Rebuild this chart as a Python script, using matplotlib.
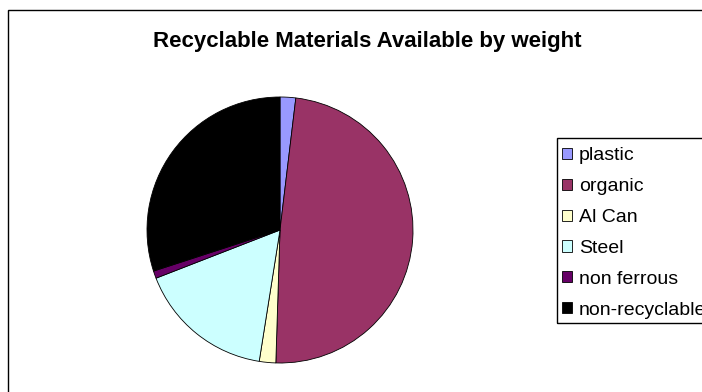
# -*- coding: utf-8 -*-
"""
Pie chart of recyclable materials available, by weight.
"""
from matplotlib import pyplot as plt
from matplotlib.patches import Rectangle

labels = ["plastic", "organic", "Al Can", "Steel", "non ferrous", "non-recyclable"]
weights = [1.9, 48.6, 2.0, 16.6, 0.9, 30.0]
colors = ["#9999FF", "#993366", "#FFFFCC", "#CCFFFF", "#660066", "#000000"]

plt.rcParams['font.family'] = ['Liberation Sans', 'DejaVu Sans']

fig = plt.figure(figsize=(7.02, 3.92), dpi=100)
W, H = 702, 392

# outer chart frame (runs off right and bottom edges)
fig.patches.append(Rectangle((8 / W, -0.1), 1.0, (H - 10) / H + 0.1,
                             transform=fig.transFigure, fill=False,
                             edgecolor="black", linewidth=1.0))

fig.text(367 / W, 1 - 46.5 / H, "Recyclable Materials Available by weight",
         ha="center", va="baseline", fontsize=16, fontweight="bold")

cx, cy, r = 280, 230, 133
ax = fig.add_axes([(cx - r) / W, (H - cy - r) / H, 2 * r / W, 2 * r / H])
wedges, _ = ax.pie(weights, colors=colors, startangle=90, counterclock=False,
                   wedgeprops=dict(edgecolor="black", linewidth=0.6))
ax.set_xlim(-1, 1)
ax.set_ylim(-1, 1)
ax.axis("off")

# legend frame (also runs off the right edge)
fig.patches.append(Rectangle((557 / W, 1 - 323 / H), 0.5, (323 - 138) / H,
                             transform=fig.transFigure, fill=False,
                             edgecolor="black", linewidth=1.0))

leg = fig.legend(wedges, labels, loc="upper left",
                 bbox_to_anchor=(562 / W, 1 - 147.5 / H),
                 fontsize=14, frameon=False,
                 handlelength=0.51, handleheight=0.51,
                 handletextpad=0.36, labelspacing=0.71, borderpad=0,
                 borderaxespad=0)

fig.savefig("out.png", dpi=100)
